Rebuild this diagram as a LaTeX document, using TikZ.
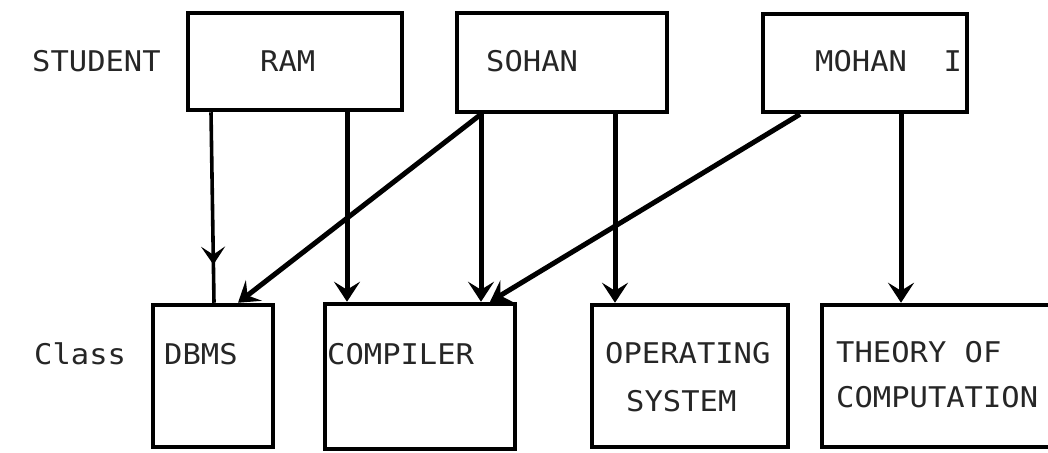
\documentclass[tikz,border=0pt]{standalone}
\usepackage{fontspec}
\newfontfamily\dotfont[FakeStretch=1.07]{DejaVu Sans Mono}
\usetikzlibrary{arrows.meta,decorations.markings}
\tikzset{
  entity/.style={draw=black, line width=4.5pt, rectangle, inner sep=0pt},
  word/.style={anchor=base west, inner sep=0pt, text=black!85, font=\dotfont\fontsize{28.5}{34}\selectfont},
  link/.style={line width=5pt, -{Stealth[length=20pt,width=26pt,inset=8pt]}},
  midlink/.style={line width=3.6pt, postaction={decorate},
    decoration={markings, mark=at position 0.8 with {\arrow{Stealth[length=18pt,width=24pt,inset=8pt]}}}}
}
\begin{document}
\begin{tikzpicture}[x=1pt, y=-1pt]
\useasboundingbox (0,0) rectangle (1048,452);
\fill[white] (0,0) rectangle (1048,452);
\begin{scope}
\clip (0,0) rectangle (1048,452);

% student row
\node[entity, minimum width=214pt, minimum height=97pt] (ram)   at (295,61.5) {};
\node[entity, minimum width=210pt, minimum height=99pt] (sohan) at (562,62.5) {};
\node[entity, minimum width=204pt, minimum height=98pt] (mohan) at (865,63) {};

% class row
\node[entity, minimum width=120pt, minimum height=142pt] (dbms)     at (213,376) {};
\node[entity, minimum width=190pt, minimum height=145pt] (compiler) at (420,376.5) {};
\node[entity, minimum width=196pt, minimum height=142pt] (os)       at (690,376) {};
\node[entity, minimum width=232pt, minimum height=142pt] (theory)   at (938,376) {};

% labels
\node[word] (lstudent) at (32,71) {STUDENT};
\node[word] (lram)     at (260,71) {RAM};
\node[word] (lsohan)   at (486,71) {SOHAN};
\node[word] (lmohan)   at (815,71) {MOHAN~~I};
\node[word] (lclass)   at (34,364) {Class};
\node[word] (ldbms)    at (164,364) {DBMS};
\node[word] (lcomp)    at (327,364) {COMPILER};
\node[word] (los1)     at (605,363) {OPERATING};
\node[word] (los2)     at (626,411) {SYSTEM};
\node[word] (lth1)     at (836,362) {THEORY OF};
\node[word] (lth2)     at (836,407) {COMPUTATION};

% enrolments
\draw[midlink] ([xshift=-84pt]ram.south) -- ([xshift=1pt]dbms.north);
\draw[link] ([xshift=52pt]ram.south) -- ([xshift=-73pt]compiler.north);
\draw[link] ([xshift=-81pt]sohan.south) -- ([xshift=25pt]dbms.north);
\draw[link] ([xshift=-81pt]sohan.south) -- ([xshift=61pt]compiler.north);
\draw[link] ([xshift=53pt]sohan.south) -- ([xshift=-75pt]os.north);
\draw[link] ([xshift=-65pt]mohan.south) -- ([xshift=70pt]compiler.north);
\draw[link] ([xshift=36pt]mohan.south) -- ([xshift=-37pt]theory.north);
\end{scope}
\end{tikzpicture}
\end{document}
